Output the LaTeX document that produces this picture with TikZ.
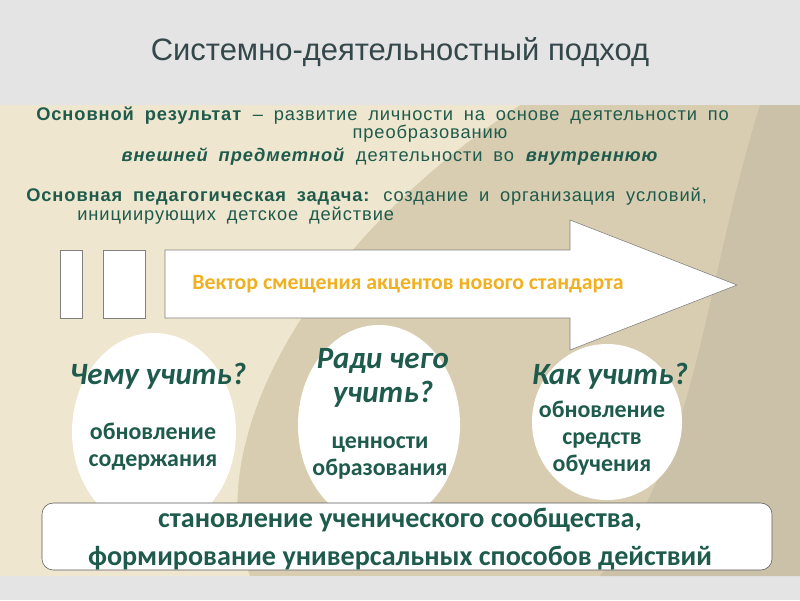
\documentclass[tikz,border=0pt]{standalone}
\usepackage{fontspec}
\setmainfont{Liberation Sans}
\newfontfamily\carlito{Carlito}
\newfontfamily\spaced[LetterSpace=5,WordSpace=1.8]{Liberation Sans}
\usetikzlibrary{positioning,shapes.geometric}
\definecolor{teal}{HTML}{1E5B4C}
\definecolor{titlegray}{HTML}{34474A}
\definecolor{beige}{HTML}{D8CDB0}
\definecolor{beigelight}{HTML}{EFE6CF}
\definecolor{bandgray}{HTML}{E4E4E4}
\definecolor{orangetext}{HTML}{F0B020}
\begin{document}
\begin{tikzpicture}[x=0.025cm,y=-0.025cm]
		% Define styles
		\tikzstyle{oval} = [ellipse, fill=white, inner sep=0pt]
		\tikzstyle{question} = [font=\carlito\bfseries\itshape\fontsize{22}{24}\selectfont, text=teal, align=center]
		\tikzstyle{answer} = [font=\carlito\bfseries\fontsize{17}{19}\selectfont, text=teal, align=center]
		\tikzstyle{bodytext} = [font=\spaced\fontsize{13}{13}\selectfont, text=teal, inner sep=0pt]
		
		% Background
		\useasboundingbox (0,0) rectangle (800,600);
		\fill[bandgray] (0,0) rectangle (800,600);
		\fill[beige] (0,105) rectangle (800,576);
		\fill[beigelight] (0,105) -- (520,105) .. controls (300,250) and (200,450) .. (250,576) -- (0,576) -- cycle;
		\fill[beige!85!gray] (760,105) .. controls (700,300) and (700,450) .. (600,576) -- (800,576) -- (800,105) -- cycle;
		
		% Title
		\node[font=\fontsize{22}{24}\selectfont, text=titlegray] (title) at (400,52) {Системно-деятельностный подход};
		
		% Top text
		\node[bodytext, anchor=west] (res1) at (36,116) {\textbf{Основной результат} – развитие личности на основе деятельности по};
		\node[bodytext] (res2) at (430,134) {преобразованию};
		\node[bodytext] (res3) at (390,157) {\textbf{\itshape внешней предметной} деятельности во \textbf{\itshape внутреннюю}};
		\node[bodytext, anchor=west] (task1) at (26,197) {\textbf{Основная педагогическая задача:} создание и организация условий,};
		\node[bodytext, anchor=west] (task2) at (77,216) {инициирующих детское действие};
		
		% Arrow
		\draw[gray, fill=white] (60,250) rectangle (82,318);
		\draw[gray, fill=white] (103,250) rectangle (145,318);
		\draw[gray, fill=white] (165,250) -- (570,250) -- (570,220) -- (737,285) -- (570,350) -- (570,318) -- (165,318) -- cycle;
		\node[font=\carlito\bfseries\fontsize{15.5}{16}\selectfont, text=orangetext] (vector) at (408,284) {Вектор смещения акцентов нового стандарта};
		
		% Ovals
		\node[oval, minimum width=4.1cm, minimum height=4.95cm] (what) at (154,432) {};
		\node[oval, minimum width=4.05cm, minimum height=5cm] (why) at (379,425) {};
		\node[oval, minimum width=3.75cm, minimum height=3.9cm] (how) at (607,422) {};
		\node[question] (whatq) at (158,376) {Чему учить?};
		\node[answer] (whata) at (153,447) {обновление\\содержания};
		\node[question] (whyq) at (383,378) {Ради чего\\учить?};
		\node[answer] (whya) at (380,458) {ценности\\образования};
		\node[question] (howq) at (610,376) {Как учить?};
		\node[answer] (howa) at (602,438) {обновление\\средств\\обучения};
		
		% Bottom box
		\draw[gray!70!black, fill=white, rounded corners=8] (42,503) rectangle (772,570);
		\node[font=\carlito\bfseries\fontsize{20}{27}\selectfont, text=teal, align=center] (community) at (400,539) {становление ученического сообщества,\\формирование универсальных способов действий};
	\end{tikzpicture}
\end{document}
